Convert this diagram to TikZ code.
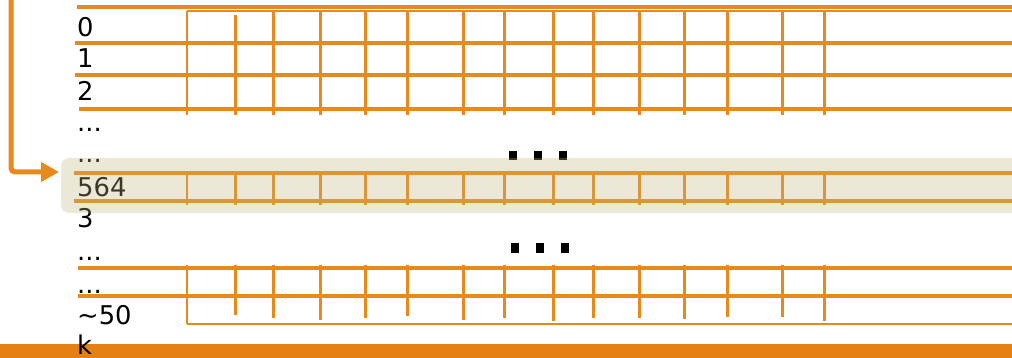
\documentclass[tikz,border=0pt]{standalone}
\usepackage{fontspec}
\setmainfont{DejaVu Sans}
\usetikzlibrary{arrows.meta}
\definecolor{gridorange}{RGB}{232,137,28}
\definecolor{barorange}{RGB}{229,128,18}
\definecolor{bandcol}{RGB}{190,181,129}
\tikzset{
  rowline/.style={draw=gridorange, line width=3.2pt},
  colline/.style={draw=gridorange, line width=3pt},
  edgeline/.style={draw=gridorange, line width=2pt},
  lbl/.style={anchor=base west, inner sep=0pt, font=\fontsize{25.8}{30}\selectfont},
  sq/.style={fill=black, inner sep=0pt, minimum width=8.5pt, minimum height=9pt},
  arrowline/.style={draw=gridorange, line width=5pt, rounded corners=4pt, -{Triangle[length=18pt,width=19pt]}},
}
\begin{document}
\begin{tikzpicture}[x=1pt,y=-1pt]
\useasboundingbox (0,0) rectangle (1012,358);
% ---- top group ----
\draw[rowline] (77,7) -- (1014,7);
\draw[edgeline] (187,11) -- (1014,11);
\draw[rowline] (75,43) -- (1014,43);
\draw[rowline] (75,75) -- (1014,75);
\draw[rowline] (79,109) -- (1014,109);
\draw[edgeline] (187,11) -- (187,115);
\draw[colline] (235,15) -- (235,115);
\foreach \x in {273,320,365,407,463,504,553,593,639,684,727,782,824}
  \draw[colline] (\x,11) -- (\x,115);
% ---- highlighted row ----
\draw[rowline] (74,173) -- (1014,173);
\draw[rowline] (74,201) -- (1014,201);
\draw[edgeline] (187,173) -- (187,205);
\foreach \x in {235,273,320,365,407,463,504,553,593,639,684,727,782,824}
  \draw[colline] (\x,173) -- (\x,205);
% ---- bottom group ----
\draw[rowline] (78,268) -- (1014,268);
\draw[rowline] (78,296) -- (1014,296);
\draw[edgeline] (187,324) -- (1014,324);
\draw[edgeline] (187,265) -- (187,324);
\foreach \x/\e in {235/315,273/318,320/320,365/318,407/316,463/320,504/318,553/321,593/318,639/318,684/319,727/317,782/317,824/321}
  \draw[colline] (\x,265) -- (\x,\e);
% ---- bottom bar ----
\fill[barorange] (0,344) rectangle (1012,358);
% ---- labels ----
\node[lbl] (l0) at (77,37) {0};
\node[lbl] (l1) at (77,68) {1};
\node[lbl] (l2) at (77,101) {2};
\node[lbl] (l3) at (77,132) {...};
\node[lbl] (l4) at (77,163) {...};
\node[lbl] (l5) at (77,197) {564};
\node[lbl] (l6) at (77,228) {3};
\node[lbl] (l7) at (77,260) {...};
\node[lbl] (l8) at (77,293) {...};
\node[lbl] (l9) at (77,324) {\char"007E 50};
\node[lbl] (l10) at (77,354) {k};
% ---- dots ----
\node[sq] (d1) at (513,155.5) {};
\node[sq] (d2) at (538,155.5) {};
\node[sq] (d3) at (563,155.5) {};
\node[sq] (d4) at (515,248) {};
\node[sq] (d5) at (540,248) {};
\node[sq] (d6) at (565,248) {};
% ---- highlight band ----
\fill[bandcol, fill opacity=0.31, rounded corners=8pt] (61,158) rectangle (1030,213);
% ---- arrow ----
\coordinate (arrowtop) at (11,-6);
\coordinate (arrowtip) at (59,172);
\draw[arrowline] (arrowtop) |- (arrowtip);
\end{tikzpicture}
\end{document}
